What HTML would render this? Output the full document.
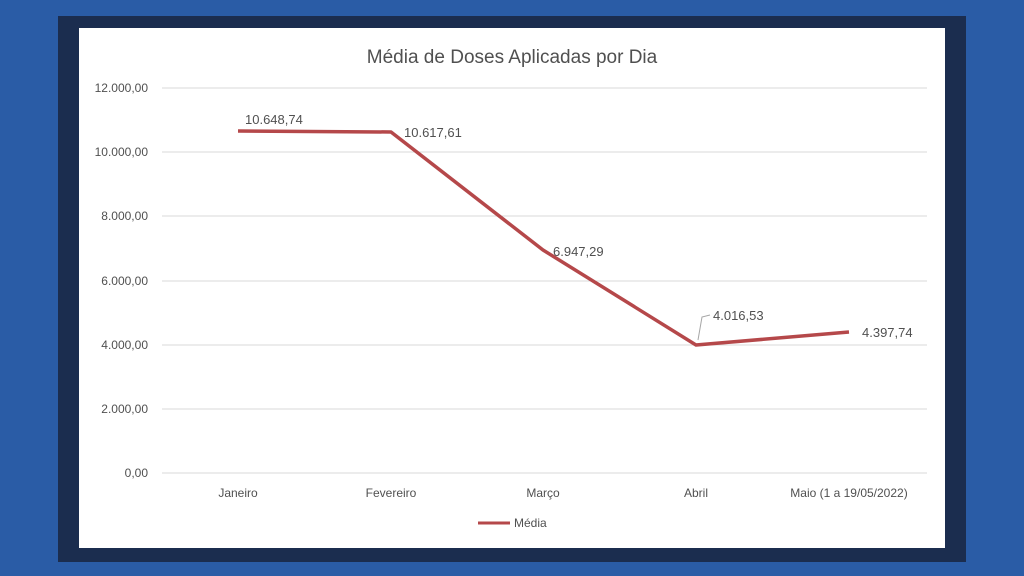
<!DOCTYPE html>
<html><head><meta charset="utf-8"><style>
html,body{margin:0;padding:0;width:1024px;height:576px;overflow:hidden;background:#2a5ca6}
svg{display:block}
text{font-family:"Liberation Sans",sans-serif;fill:#505050}
</style></head><body>
<svg width="1024" height="576" viewBox="0 0 1024 576">
<rect x="0" y="0" width="1024" height="576" fill="#2a5ca6"/>
<rect x="58" y="16" width="908" height="546" fill="#1b2d4f"/>
<rect x="79" y="28" width="866" height="520" fill="#ffffff"/>
<text x="512" y="63" text-anchor="middle" font-size="19">Média de Doses Aplicadas por Dia</text>
<g stroke="#d9d9d9" stroke-width="1">
<line x1="162" x2="927" y1="88" y2="88"/>
<line x1="162" x2="927" y1="152" y2="152"/>
<line x1="162" x2="927" y1="216" y2="216"/>
<line x1="162" x2="927" y1="281" y2="281"/>
<line x1="162" x2="927" y1="345" y2="345"/>
<line x1="162" x2="927" y1="409" y2="409"/>
<line x1="162" x2="927" y1="473" y2="473"/>
</g>
<g font-size="12" text-anchor="end">
<text x="148" y="92">12.000,00</text>
<text x="148" y="156">10.000,00</text>
<text x="148" y="220">8.000,00</text>
<text x="148" y="285">6.000,00</text>
<text x="148" y="349">4.000,00</text>
<text x="148" y="413">2.000,00</text>
<text x="148" y="477">0,00</text>
</g>
<g font-size="12" text-anchor="middle">
<text x="238" y="497">Janeiro</text>
<text x="391" y="497">Fevereiro</text>
<text x="543" y="497">Março</text>
<text x="696" y="497">Abril</text>
<text x="849" y="497">Maio (1 a 19/05/2022)</text>
</g>
<polyline points="238,131 391,132 543,250 696,345 849,332" fill="none" stroke="#b5484a" stroke-width="3.5" stroke-linejoin="round"/>
<g font-size="13">
<text x="245" y="124">10.648,74</text>
<text x="404" y="137">10.617,61</text>
<text x="553" y="256">6.947,29</text>
<text x="713" y="320">4.016,53</text>
<text x="862" y="337">4.397,74</text>
</g>
<polyline points="698,340 702,317 710,315" fill="none" stroke="#a6a6a6" stroke-width="1"/>
<line x1="478" x2="510" y1="523" y2="523" stroke="#b5484a" stroke-width="3"/>
<text x="514" y="527" font-size="12">Média</text>
</svg>
</body></html>
